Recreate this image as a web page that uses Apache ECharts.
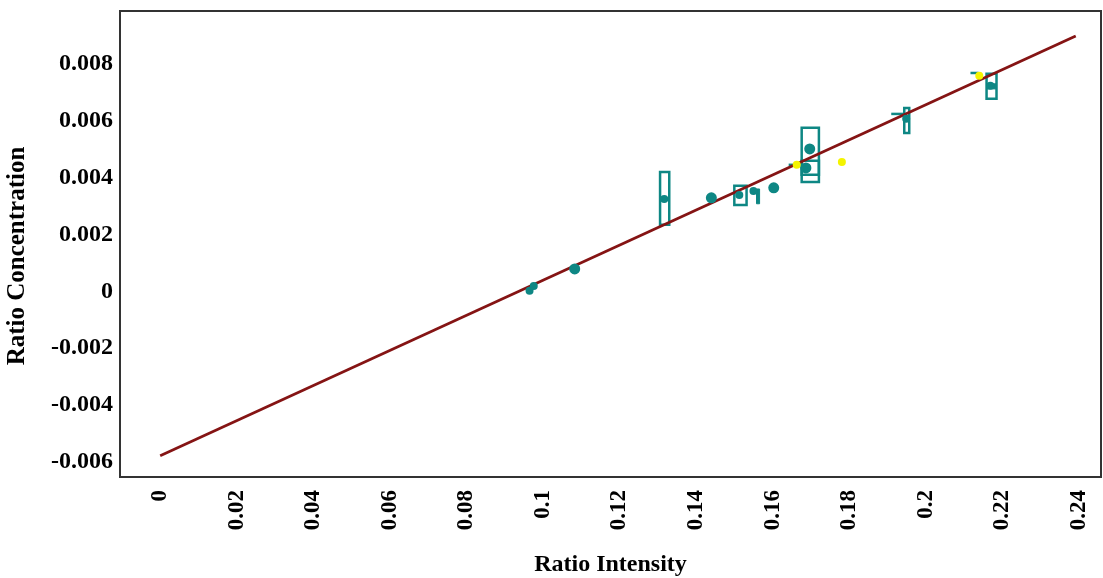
<!DOCTYPE html>
<html>
<head>
<meta charset="utf-8">
<script src="https://cdn.jsdelivr.net/npm/echarts@6/dist/echarts.min.js"></script>
<style>
  html, body { margin: 0; padding: 0; background: #fff; }
  #chart { width: 1103px; height: 578px; }
</style>
</head>
<body>
<div id="chart"></div>
<script>
(function () {
  // tick labels
  const xTicks = [0, 0.02, 0.04, 0.06, 0.08, 0.1, 0.12, 0.14, 0.16, 0.18, 0.2, 0.22, 0.24];
  const yTicks = [-0.006, -0.004, -0.002, 0, 0.002, 0.004, 0.006, 0.008];

  // fitted line end points [x, y]
  const fitLine = [[0, -0.00578], [0.2392, 0.00898]];

  // measured points [ratio intensity, ratio concentration]
  const tealDots = [
    [0.0965, 0.00002], [0.0976, 0.00019], [0.1317, 0.00325], [0.1513, 0.00339],
    [0.1550, 0.00353], [0.1949, 0.00607], [0.2169, 0.00723]
  ];
  const tealBigDots = [
    [0.1083, 0.00079], [0.1440, 0.00329], [0.1603, 0.00364],
    [0.1697, 0.00501], [0.1687, 0.00434]
  ];
  const yellowDots = [[0.1663, 0.00445], [0.1781, 0.00455], [0.2140, 0.00758]];

  // spread boxes [xLow, xHigh, yLow, yHigh]
  const openBoxes = [
    [0.1306, 0.1330, 0.00234, 0.00420],
    [0.1500, 0.1532, 0.00304, 0.00371],
    [0.1676, 0.1721, 0.00385, 0.00575],
    [0.1676, 0.1721, 0.00410, 0.00459],
    [0.1944, 0.1957, 0.00557, 0.00645],
    [0.2159, 0.2185, 0.00677, 0.00765]
  ];
  const solidBoxes = [
    [0.1558, 0.1566, 0.00308, 0.00360],
    [0.2159, 0.2185, 0.00712, 0.00730]
  ];
  // short horizontal markers [xLow, xHigh, y]
  const dashes = [
    [0.1642, 0.1655, 0.00445],
    [0.1910, 0.1944, 0.00624],
    [0.2117, 0.2138, 0.00768]
  ];

  const teal = '#0e8784';
  const lineRed = '#851414';
  const axisFont = { fontFamily: 'Liberation Serif', fontWeight: 'bold', fontSize: 24, color: '#000' };

  function boxRenderer(filled) {
    return function (params, api) {
      const a = api.coord([api.value(0), api.value(3)]);
      const b = api.coord([api.value(1), api.value(2)]);
      return {
        type: 'rect',
        shape: { x: a[0], y: a[1], width: b[0] - a[0], height: b[1] - a[1] },
        style: filled ? { fill: teal, stroke: teal, lineWidth: 1 } : { fill: 'none', stroke: teal, lineWidth: 2.5 }
      };
    };
  }

  const chart = echarts.init(document.getElementById('chart'), null, { renderer: 'canvas' });
  chart.setOption({
    animation: false,
    backgroundColor: '#fff',
    grid: {
      left: 120, right: 2, top: 11, bottom: 101, outerBoundsMode: 'none',
      show: true, borderColor: '#333', borderWidth: 2, backgroundColor: '#fff'
    },
    xAxis: {
      type: 'value', min: -0.0105, max: 0.2458,
      name: 'Ratio Intensity', nameLocation: 'middle', nameGap: 76,
      nameTextStyle: axisFont,
      axisLine: { show: false }, axisTick: { show: false }, splitLine: { show: false },
      axisLabel: { customValues: xTicks, rotate: 90, margin: 13, ...axisFont, fontSize: 23, formatter: v => String(+v.toFixed(4)) }
    },
    yAxis: {
      type: 'value', min: -0.00653, max: 0.00986,
      name: 'Ratio Concentration', nameLocation: 'middle', nameGap: 90,
      nameTextStyle: { ...axisFont, fontSize: 25, padding: [0, 24, 0, 0] },
      axisLine: { show: false }, axisTick: { show: false }, splitLine: { show: false },
      axisLabel: { customValues: yTicks, margin: 7, ...axisFont, fontSize: 24, formatter: v => String(+v.toFixed(4)) }
    },
    series: [
      { type: 'custom', z: 1, data: openBoxes, renderItem: boxRenderer(false) },
      { type: 'custom', z: 1, data: solidBoxes, renderItem: boxRenderer(true) },
      {
        type: 'custom', z: 1, data: dashes,
        renderItem: function (params, api) {
          const a = api.coord([api.value(0), api.value(2)]);
          const b = api.coord([api.value(1), api.value(2)]);
          return { type: 'line', shape: { x1: a[0], y1: a[1], x2: b[0], y2: b[1] }, style: { stroke: teal, lineWidth: 2.5 } };
        }
      },
      { type: 'line', z: 2, data: fitLine, showSymbol: false, lineStyle: { color: lineRed, width: 2.8 } },
      { type: 'scatter', z: 3, data: tealDots, symbolSize: 8, itemStyle: { color: teal, opacity: 1 } },
      { type: 'scatter', z: 3, data: tealBigDots, symbolSize: 11, itemStyle: { color: teal, opacity: 1 } },
      { type: 'scatter', z: 4, data: yellowDots, symbolSize: 8, itemStyle: { color: '#f4f400', opacity: 1 } }
    ]
  });
  window.addEventListener('resize', () => chart.resize());
})();
</script>
</body>
</html>
